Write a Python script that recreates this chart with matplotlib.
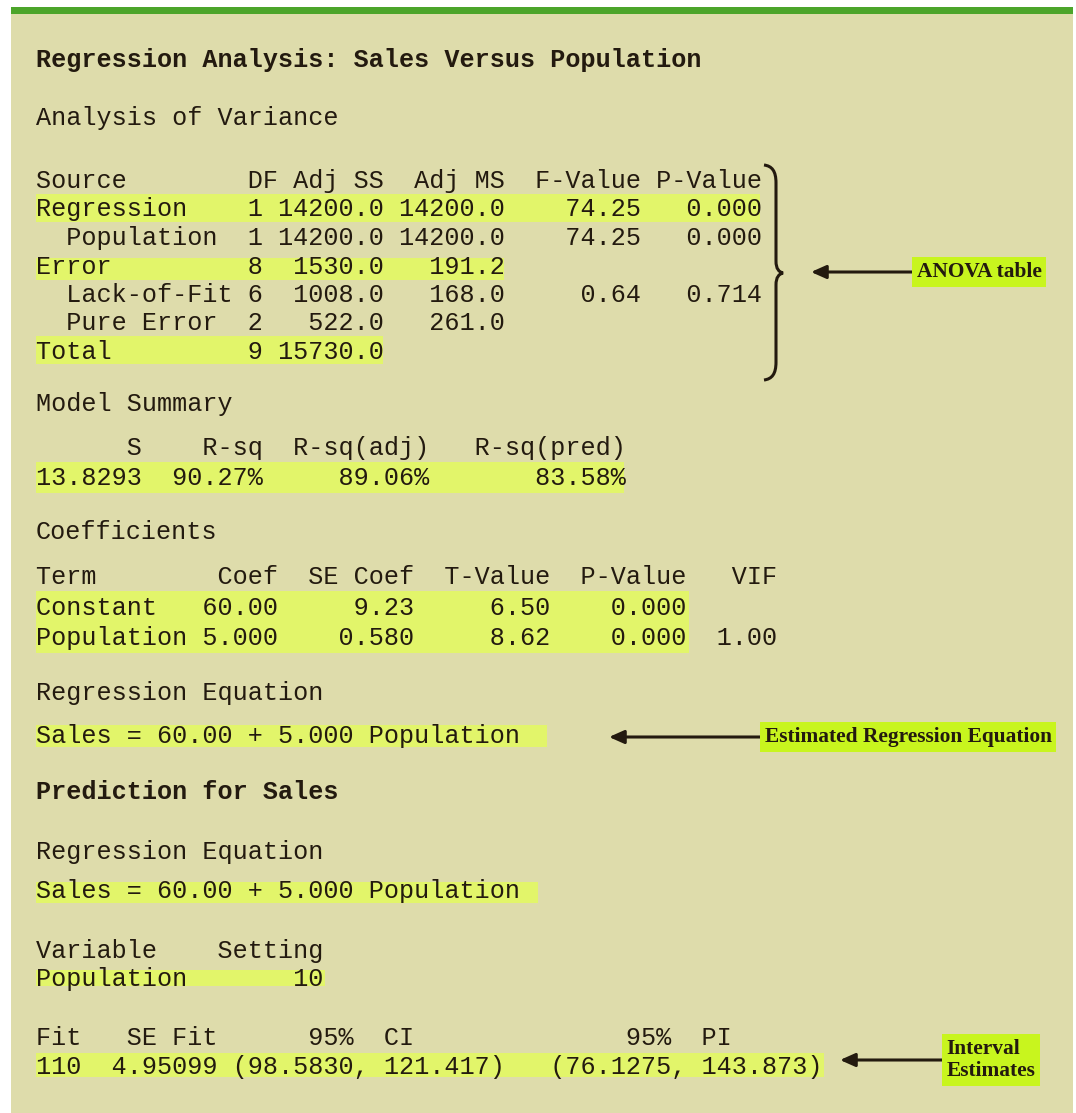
import matplotlib.pyplot as plt
from matplotlib.patches import Rectangle, PathPatch
from matplotlib.path import Path

anova_source = ['Regression', '  Population', 'Error', '  Lack-of-Fit', '  Pure Error', 'Total']
anova_df = [1, 1, 8, 6, 2, 9]
anova_adj_ss = [14200.0, 14200.0, 1530.0, 1008.0, 522.0, 15730.0]
anova_adj_ms = [14200.0, 14200.0, 191.2, 168.0, 261.0, None]
anova_f = [74.25, 74.25, None, 0.64, None, None]
anova_p = [0.000, 0.000, None, 0.714, None, None]

model_s = 13.8293
model_rsq = [90.27, 89.06, 83.58]   # R-sq, R-sq(adj), R-sq(pred)

coef_term = ['Constant', 'Population']
coef_value = [60.00, 5.000]
coef_dec = [2, 3]
coef_se = [9.23, 0.580]
coef_se_dec = [2, 3]
coef_t = [6.50, 8.62]
coef_p = [0.000, 0.000]
coef_vif = [None, 1.00]

pred_setting = 10
fit = 110
se_fit = '4.95099'
ci = [98.5830, 121.417]
pi = [76.1275, 143.873]

# --- colours / layout ---
bg = '#dedcab'
hl = '#e2f56a'
lab = '#c8f51e'
ink = '#231a0f'
green = '#4ca52a'

pitch = 15.1          # px per character
x0 = 35.5             # left edge of text column
fs = pitch / 0.6 * 72 / 100
mono = 'Liberation Mono'


def fmt(v, d):
    return '' if v is None else f'{v:.{d}f}'


lines = []   # (y centre, text, bold)
lines.append((60, 'Regression Analysis: Sales Versus Population', True))
lines.append((118.5, 'Analysis of Variance', False))
lines.append((181, f"{'Source':<14}{'DF':<2} {'Adj SS':>6}  {'Adj MS':>6}  {'F-Value':>7} {'P-Value':>7}", False))
anova_y = [209, 237.7, 267, 294.7, 322.7, 351.7]
for i, y in enumerate(anova_y):
    row = (f"{anova_source[i]:<14}{anova_df[i]} {fmt(anova_adj_ss[i], 1):>7} "
           f"{fmt(anova_adj_ms[i], 1):>7}{fmt(anova_f[i], 2):>9}{fmt(anova_p[i], 3):>8}")
    lines.append((y, row.rstrip(), False))

lines.append((404, 'Model Summary', False))
lines.append((448, f"{'S':>7}{'R-sq':>8}{'R-sq(adj)':>11}{'R-sq(pred)':>13}", False))
lines.append((478, f"{model_s:>7.4f}{model_rsq[0]:>7.2f}%{model_rsq[1]:>10.2f}%{model_rsq[2]:>12.2f}%", False))

lines.append((532, 'Coefficients', False))
lines.append((577, f"{'Term':<11}{'Coef':>5}{'SE Coef':>9}{'T-Value':>9}{'P-Value':>9}{'VIF':>6}", False))
for i, y in enumerate([608, 638]):
    row = (f"{coef_term[i]:<11}{fmt(coef_value[i], coef_dec[i]):>5}{fmt(coef_se[i], coef_se_dec[i]):>9}"
           f"{fmt(coef_t[i], 2):>9}{fmt(coef_p[i], 3):>9}{fmt(coef_vif[i], 2):>6}")
    lines.append((y, row.rstrip(), False))

equation = f"Sales = {coef_value[0]:.2f} + {coef_value[1]:.3f} Population"
lines.append((693, 'Regression Equation', False))
lines.append((736, equation, False))
lines.append((792, 'Prediction for Sales', True))
lines.append((851.7, 'Regression Equation', False))
lines.append((890.7, equation, False))
lines.append((950.7, f"{'Variable':<12}Setting", False))
lines.append((979, f"{'Population':<12}{pred_setting:>7}", False))
lines.append((1038, f"{'Fit':<3}{'SE Fit':>9}{'95%':>9}  {'CI':<2}{'95%':>17}  PI", False))
lines.append((1066.7, f"{fit:<3}{se_fit:>9} ({ci[0]:.4f}, {ci[1]:.3f})   ({pi[0]:.4f}, {pi[1]:.3f})", False))

# highlight bands: (right edge in characters, top px, bottom px)
highlights = [
    (48.0, 194, 222), (31.0, 258, 280), (23.0, 336, 364),
    (39.0, 462, 493), (43.3, 591, 653),
    (33.9, 725, 747), (33.3, 882, 903), (19.2, 970, 986), (52.2, 1053, 1077),
]

fig = plt.figure(figsize=(10.76, 11.13), dpi=100)
ax = fig.add_axes([0, 0, 1, 1])
ax.set_xlim(0, 1076)
ax.set_ylim(1113, 0)
ax.axis('off')

ax.add_patch(Rectangle((11, 7), 1062, 1106, fc=bg, ec='none'))
ax.add_patch(Rectangle((11, 7), 1062, 7, fc=green, ec='none'))

for ncol, top, bot in highlights:
    ax.add_patch(Rectangle((36, top), x0 + ncol * pitch - 36, bot - top, fc=hl, ec='none'))

for y, txt, bold in lines:
    ax.text(x0, y + 7, txt, family=mono, fontsize=fs, color=ink,
            fontweight='bold' if bold else 'normal', va='baseline', ha='left')

# curly brace around the ANOVA table
bx, top, mid, bot = 776, 165, 273, 380
verts = [(764, top), (772, top + 1), (bx, top + 6), (bx, top + 18),
         (bx, mid - 12),
         (bx, mid - 4), (779, mid - 1), (783, mid),
         (779, mid + 1), (bx, mid + 4), (bx, mid + 12),
         (bx, bot - 18),
         (bx, bot - 6), (772, bot - 1), (764, bot)]
codes = [Path.MOVETO, Path.CURVE4, Path.CURVE4, Path.CURVE4, Path.LINETO,
         Path.CURVE4, Path.CURVE4, Path.CURVE4, Path.CURVE4, Path.CURVE4, Path.CURVE4,
         Path.LINETO, Path.CURVE4, Path.CURVE4, Path.CURVE4]
ax.add_patch(PathPatch(Path(verts, codes), fc='none', ec=ink, lw=2.2))

# callouts: label, arrow tip, arrow tail (= left edge of label box)
lab_fs = 15.4
lab_pad = 0.22
pad_px = lab_pad * lab_fs * 100 / 72
callouts = [
    ('ANOVA table', (811, 272), (912, 272)),
    ('Estimated Regression Equation', (609, 737), (760, 737)),
    ('Interval\nEstimates', (840, 1060), (942, 1060)),
]
for label, tip, tail in callouts:
    ax.annotate('', xy=tip, xytext=tail,
                arrowprops=dict(arrowstyle='-|>,head_length=0.9,head_width=0.4',
                                lw=2.2, color=ink, shrinkA=0, shrinkB=0))
    ax.text(tail[0] + pad_px, tail[1], label, family='Liberation Serif', fontweight='bold',
            fontsize=lab_fs, color=ink, ha='left', va='center', linespacing=1.2,
            bbox=dict(boxstyle=f'square,pad={lab_pad}', fc=lab, ec='none'))

fig.savefig('out.png', dpi=100, facecolor='white')
